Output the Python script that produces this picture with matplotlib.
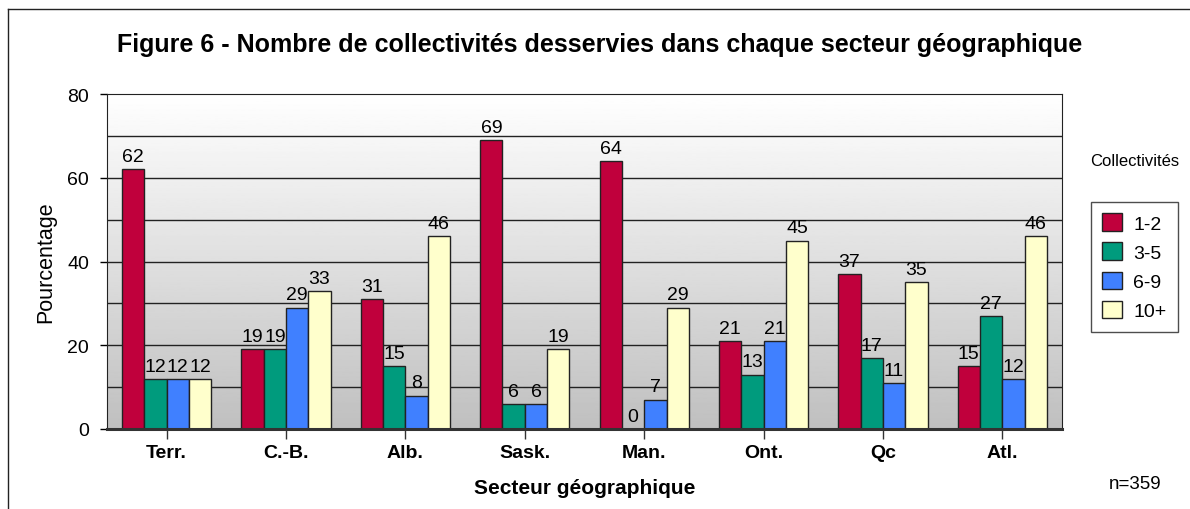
import numpy as np
import matplotlib.pyplot as plt
from matplotlib.lines import Line2D

plt.rcParams['font.family'] = ['Liberation Sans', 'DejaVu Sans']

regions = ['Terr.', 'C.-B.', 'Alb.', 'Sask.', 'Man.', 'Ont.', 'Qc', 'Atl.']
groups = ['1-2', '3-5', '6-9', '10+']
v12 = [62, 19, 31, 69, 64, 21, 37, 15]
v35 = [12, 19, 15, 6, 0, 13, 17, 27]
v69 = [12, 29, 8, 6, 7, 21, 11, 12]
v10 = [12, 33, 46, 19, 29, 45, 35, 46]
series = [v12, v35, v69, v10]
colors = ['#C0003C', '#009B7D', '#4080FF', '#FFFFCC']

fig = plt.figure(figsize=(11.9, 5.1), dpi=100)
ax = fig.add_axes([107/1190, 1 - 430/510, (1062 - 107)/1190, (430 - 95)/510])

x = np.arange(len(regions))
w = 0.187
xmin, xmax = -0.5, len(regions) - 0.5

# gradient background
grad = np.linspace(1.0, 0.75, 256).reshape(-1, 1)
ax.imshow(grad, cmap='gray', vmin=0, vmax=1, aspect='auto',
          extent=[xmin, xmax, 0, 80], zorder=0)
for yy in range(10, 80, 10):
    ax.axhline(yy, color='#222222', lw=1.0, zorder=1)

for i, (vals, c) in enumerate(zip(series, colors)):
    pos = x + (i - 1.5) * w
    ax.bar(pos, vals, w, color=c, edgecolor='#222222', lw=1.0,
           label=groups[i], zorder=2)
    for p, v in zip(pos, vals):
        ax.text(p, v + 1.0, str(v), ha='center', va='bottom', fontsize=14)

ax.set_xlim(xmin, xmax)
ax.set_ylim(0, 80)
ax.set_yticks([0, 20, 40, 60, 80])
ax.set_xticks(x)
ax.set_xticklabels(regions, fontweight='bold', fontsize=14)
ax.tick_params(axis='y', labelsize=14, length=5, width=1, pad=8)
ax.tick_params(axis='x', length=7, width=1, pad=4, color='#333333')
for s in ['top', 'right', 'left']:
    ax.spines[s].set_color('#222222')
ax.spines['bottom'].set_linewidth(2.2)
ax.spines['bottom'].set_color('#333333')

ax.set_ylabel('Pourcentage', fontsize=15.5, labelpad=8)
ax.set_xlabel('Secteur géographique', fontsize=15, fontweight='bold', labelpad=12)

fig.suptitle('Figure 6 - Nombre de collectivités desservies dans chaque secteur géographique',
             x=600/1190, y=1 - 45/510, fontsize=18, fontweight='bold', va='center')

leg = ax.legend(loc='upper left', bbox_to_anchor=(1081/1190, 1 - 193/510),
                bbox_transform=fig.transFigure, fontsize=14, frameon=True,
                fancybox=False, edgecolor='#222222', handlelength=1.0,
                handleheight=1.0, borderpad=0.6, labelspacing=0.5,
                handletextpad=0.6)
leg.get_frame().set_linewidth(1.0)
fig.text(1135/1190, 1 - 162/510, 'Collectivités', ha='center', va='center', fontsize=12)
fig.text(1135/1190, 1 - 485/510, 'n=359', ha='center', va='center', fontsize=13.5)

# outer frame
fig.add_artist(Line2D([8/1190, 8/1190], [0, 1 - 10/510], color='#222222', lw=1.0,
                      transform=fig.transFigure))
fig.add_artist(Line2D([8/1190, 1], [1 - 10/510, 1 - 10/510], color='#222222', lw=1.0,
                      transform=fig.transFigure))

fig.savefig('out.png', dpi=100)
